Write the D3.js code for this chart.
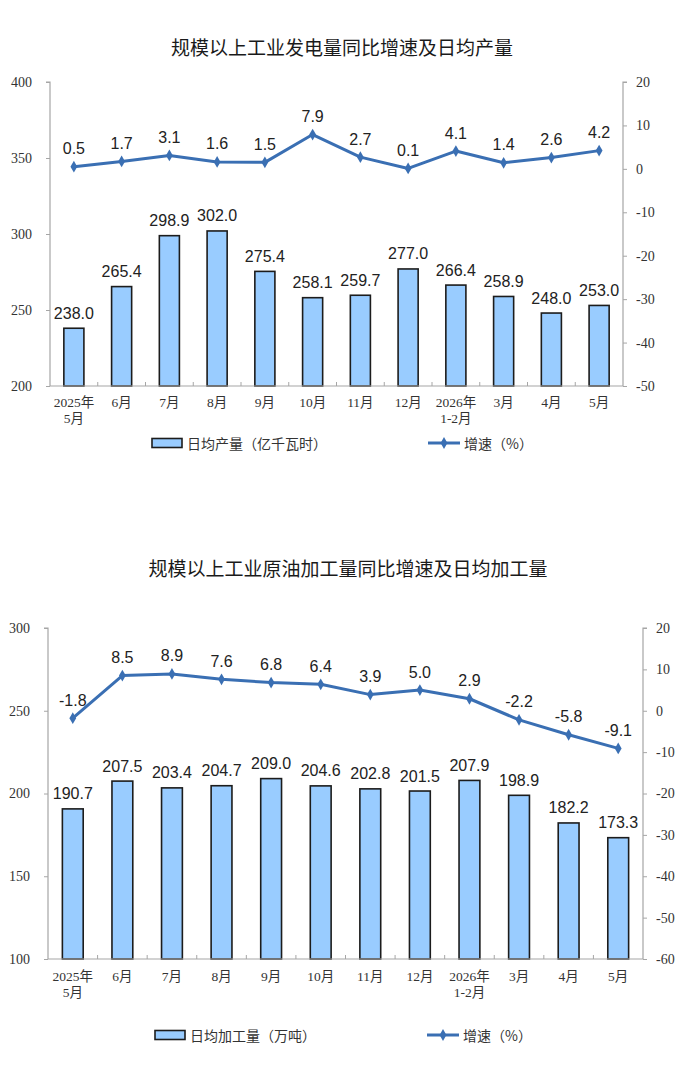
<!DOCTYPE html>
<html>
<head>
<meta charset="utf-8">
<script src="https://cdn.jsdelivr.net/npm/d3@7"></script>
<style>
  html, body { margin: 0; padding: 0; background: #fff; }
  svg { display: block; }
</style>
</head>
<body>
<svg id="chart" width="697" height="1080"></svg>
<script>
// ---------- data ----------
const categories = ["2025年\n5月", "6月", "7月", "8月", "9月", "10月", "11月", "12月", "2026年\n1-2月", "3月", "4月", "5月"];

const powerTitle = "规模以上工业发电量同比增速及日均产量";
const powerDaily = [238.0, 265.4, 298.9, 302.0, 275.4, 258.1, 259.7, 277.0, 266.4, 258.9, 248.0, 253.0];
const powerGrowth = [0.5, 1.7, 3.1, 1.6, 1.5, 7.9, 2.7, 0.1, 4.1, 1.4, 2.6, 4.2];
const powerLeftTicks = [200, 250, 300, 350, 400];
const powerRightTicks = [-50, -40, -30, -20, -10, 0, 10, 20];
const powerBarLegend = "日均产量（亿千瓦时）";

const crudeTitle = "规模以上工业原油加工量同比增速及日均加工量";
const crudeDaily = [190.7, 207.5, 203.4, 204.7, 209.0, 204.6, 202.8, 201.5, 207.9, 198.9, 182.2, 173.3];
const crudeGrowth = [-1.8, 8.5, 8.9, 7.6, 6.8, 6.4, 3.9, 5.0, 2.9, -2.2, -5.8, -9.1];
const crudeLeftTicks = [100, 150, 200, 250, 300];
const crudeRightTicks = [-60, -50, -40, -30, -20, -10, 0, 10, 20];
const crudeBarLegend = "日均加工量（万吨）";

const lineLegend = "增速（%）";

// ---------- style ----------
const BAR_FILL = "#99ccff";
const BAR_STROKE = "#1c1c1c";
const LINE_COLOR = "#3a6fb3";
const AXIS_COLOR = "#a6a6a6";
const TEXT_COLOR = "#333";
const TICK_FONT = "'Liberation Serif', 'Noto Sans CJK SC', serif";
const CJK_FONT = "'Noto Sans CJK SC', sans-serif";
const LABEL_FONT = "'Liberation Sans', Arial, sans-serif";

const svg = d3.select("#chart");

function drawChart(cfg) {
  const g = svg.append("g");
  const { left, right, top, bottom } = cfg.plot;

  // title
  g.append("text")
    .attr("x", cfg.titleX).attr("y", cfg.titleY)
    .attr("text-anchor", "middle").attr("dominant-baseline", "central")
    .style("font-family", CJK_FONT).style("font-size", "19px")
    .style("font-weight", 400).attr("fill", "#1a1a1a")
    .text(cfg.title);

  const x = d3.scaleBand().domain(categories).range([left, right])
    .paddingInner(0.58).paddingOuter(0.29);
  const yL = d3.scaleLinear().domain(d3.extent(cfg.leftTicks)).range([bottom, top]);
  const yR = d3.scaleLinear().domain(d3.extent(cfg.rightTicks)).range([bottom, top]);

  const fmt = d => String(d);
  // left axis
  const axL = g.append("g").attr("transform", `translate(${left},0)`)
    .call(d3.axisLeft(yL).tickValues(cfg.leftTicks).tickSize(4).tickPadding(14).tickFormat(fmt));
  // right axis
  const axR = g.append("g").attr("transform", `translate(${right},0)`)
    .call(d3.axisRight(yR).tickValues(cfg.rightTicks).tickSize(4).tickPadding(9).tickFormat(fmt));
  [axL, axR].forEach(ax => {
    ax.select(".domain").attr("stroke", AXIS_COLOR).attr("stroke-width", 1.2);
    ax.selectAll(".tick line").attr("stroke", AXIS_COLOR);
    ax.selectAll(".tick text").attr("fill", TEXT_COLOR)
      .style("font-family", TICK_FONT).style("font-size", "14px");
  });
  axL.select(".domain").attr("d", `M-4,${top}H0V${bottom}`);
  axR.select(".domain").attr("d", `M4,${top}H0V${bottom}`);

  // bars
  g.append("g").selectAll("rect").data(cfg.bars).join("rect")
    .attr("x", (d, i) => x(categories[i]))
    .attr("y", d => yL(d))
    .attr("width", x.bandwidth())
    .attr("height", d => bottom - yL(d))
    .attr("fill", BAR_FILL).attr("stroke", BAR_STROKE).attr("stroke-width", 1.6);

  // x axis
  const bounds = d3.range(categories.length + 1).map(i => left + i * x.step());
  const axB = g.append("g");
  axB.append("line").attr("x1", left).attr("x2", right).attr("y1", bottom).attr("y2", bottom)
    .attr("stroke", AXIS_COLOR).attr("stroke-width", 1.2);
  axB.selectAll(".xt").data(bounds.slice(1, -1)).join("line")
    .attr("x1", d => d).attr("x2", d => d).attr("y1", bottom).attr("y2", bottom - 4)
    .attr("stroke", AXIS_COLOR);
  categories.forEach((c, i) => {
    const lines = c.split("\n");
    const t = axB.append("text")
      .attr("x", x(c) + x.bandwidth() / 2).attr("y", bottom + cfg.xLabelDy)
      .attr("text-anchor", "middle").attr("dominant-baseline", "central")
      .attr("fill", TEXT_COLOR)
      .style("font-family", TICK_FONT).style("font-size", "13.5px");
    lines.forEach((l, j) => {
      t.append("tspan").attr("x", x(c) + x.bandwidth() / 2).attr("dy", j === 0 ? 0 : 16).text(l);
    });
  });

  // bar labels
  g.append("g").selectAll("text").data(cfg.bars).join("text")
    .attr("x", (d, i) => x(categories[i]) + x.bandwidth() / 2)
    .attr("y", d => yL(d) - 15)
    .attr("text-anchor", "middle").attr("dominant-baseline", "central")
    .attr("fill", "#222")
    .style("font-family", LABEL_FONT).style("font-size", "16px")
    .text(d => d.toFixed(1));

  // line
  const cx = (d, i) => x(categories[i]) + x.bandwidth() / 2;
  const line = d3.line().x(cx).y(d => yR(d));
  g.append("path").datum(cfg.growth).attr("d", line)
    .attr("fill", "none").attr("stroke", LINE_COLOR).attr("stroke-width", 3)
    .attr("stroke-linejoin", "round");
  const diamond = d3.symbol().type(d3.symbolDiamond).size(40);
  g.append("g").selectAll("path").data(cfg.growth).join("path")
    .attr("transform", (d, i) => `translate(${cx(d, i)},${yR(d)})`)
    .attr("d", diamond).attr("fill", LINE_COLOR);
  g.append("g").selectAll("text").data(cfg.growth).join("text")
    .attr("x", cx).attr("y", d => yR(d) - 18)
    .attr("text-anchor", "middle").attr("dominant-baseline", "central")
    .attr("fill", "#222")
    .style("font-family", LABEL_FONT).style("font-size", "16px")
    .text(d => d.toFixed(1));

  // legend
  const ly = cfg.legendY;
  g.append("rect").attr("x", cfg.legendBarX).attr("y", ly - 4.5).attr("width", 30).attr("height", 9)
    .attr("fill", BAR_FILL).attr("stroke", BAR_STROKE).attr("stroke-width", 1.6);
  g.append("text").attr("x", cfg.legendBarX + 35).attr("y", ly)
    .attr("dominant-baseline", "central").attr("fill", TEXT_COLOR)
    .style("font-family", CJK_FONT).style("font-size", "14px").text(cfg.barLegend);
  g.append("line").attr("x1", cfg.legendLineX).attr("x2", cfg.legendLineX + 32)
    .attr("y1", ly).attr("y2", ly).attr("stroke", LINE_COLOR).attr("stroke-width", 3);
  g.append("path").attr("transform", `translate(${cfg.legendLineX + 16},${ly})`)
    .attr("d", diamond).attr("fill", LINE_COLOR);
  g.append("text").attr("x", cfg.legendLineX + 36).attr("y", ly)
    .attr("dominant-baseline", "central").attr("fill", TEXT_COLOR)
    .style("font-family", CJK_FONT).style("font-size", "14px").text(lineLegend);
}

drawChart({
  title: powerTitle, titleX: 342, titleY: 46,
  plot: { left: 50, right: 623, top: 82, bottom: 386 },
  bars: powerDaily, growth: powerGrowth,
  leftTicks: powerLeftTicks, rightTicks: powerRightTicks,
  xLabelDy: 16, legendY: 443, legendBarX: 152, legendLineX: 428,
  barLegend: powerBarLegend
});

drawChart({
  title: crudeTitle, titleX: 348, titleY: 567,
  plot: { left: 48, right: 643, top: 628, bottom: 959 },
  bars: crudeDaily, growth: crudeGrowth,
  leftTicks: crudeLeftTicks, rightTicks: crudeRightTicks,
  xLabelDy: 17, legendY: 1035, legendBarX: 155, legendLineX: 427,
  barLegend: crudeBarLegend
});
</script>
</body>
</html>
